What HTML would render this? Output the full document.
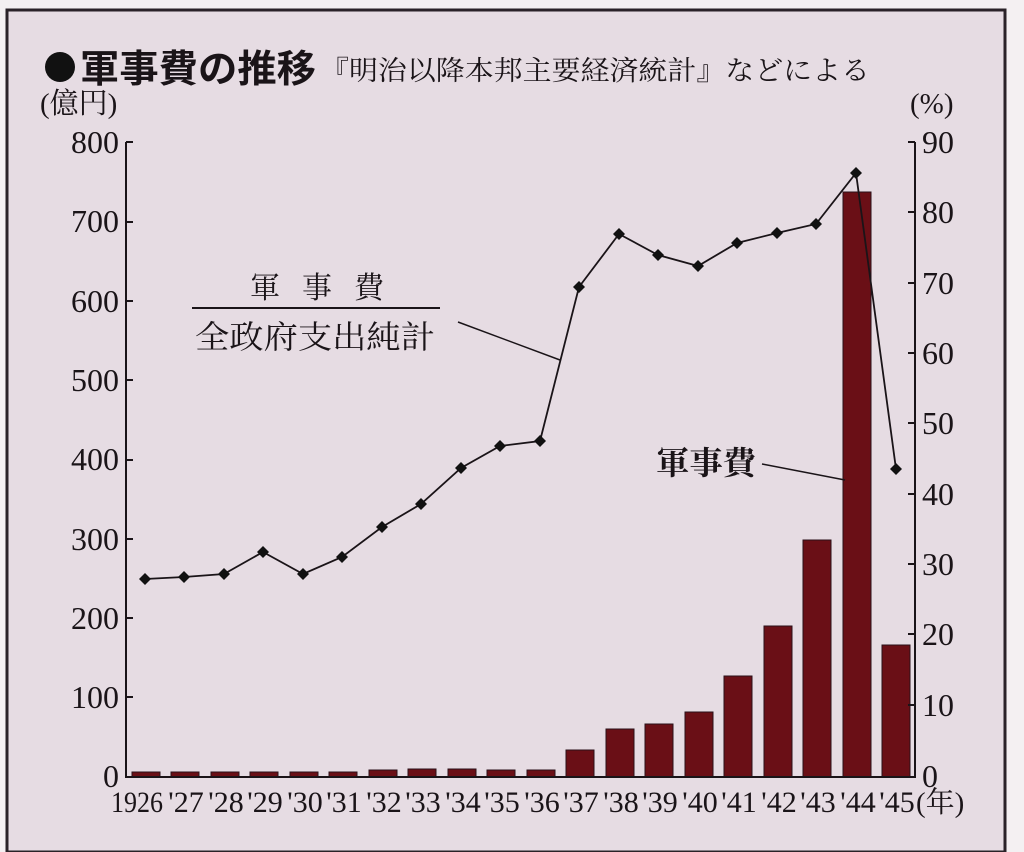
<!DOCTYPE html>
<html><head><meta charset="utf-8"><style>
html,body{margin:0;padding:0;background:#fff;}
svg{display:block;}
text{font-family:"Liberation Serif","Noto Serif CJK SC",serif;fill:#1a1418;}
.t{font-family:"Liberation Sans","Noto Sans CJK JP",sans-serif;}
</style></head><body>
<svg width="1024" height="852" viewBox="0 0 1024 852">
<rect x="0" y="0" width="1024" height="852" fill="#f4f0f2"/>
<rect x="7" y="10" width="998" height="842" fill="#e6dce3" stroke="#2a2228" stroke-width="3"/>
<circle cx="60" cy="67" r="15" fill="#111"/>
<text class="t" x="80" y="82" font-size="38" font-weight="bold" textLength="236" lengthAdjust="spacingAndGlyphs">軍事費の推移</text>
<text x="320" y="80" font-size="27" font-family="'Noto Serif CJK SC',serif" textLength="550" lengthAdjust="spacingAndGlyphs">『明治以降本邦主要経済統計』などによる</text>
<text x="40" y="113" font-size="29" font-family="'Noto Serif CJK SC',serif">(億円)</text>
<text x="910" y="113" font-size="29" font-family="'Noto Serif CJK SC',serif">(%)</text>
<g font-size="32" text-anchor="end">
<text x="119" y="153">800</text><text x="119" y="232">700</text><text x="119" y="312">600</text>
<text x="119" y="391">500</text><text x="119" y="470">400</text><text x="119" y="550">300</text>
<text x="119" y="629">200</text><text x="119" y="708">100</text><text x="119" y="787">0</text>
</g>
<g font-size="32" text-anchor="start">
<text x="922" y="153">90</text><text x="922" y="223">80</text><text x="922" y="294">70</text>
<text x="922" y="364">60</text><text x="922" y="434">50</text><text x="922" y="505">40</text>
<text x="922" y="575">30</text><text x="922" y="645">20</text><text x="922" y="716">10</text>
<text x="922" y="787">0</text>
</g>
<g fill="#6a0f16" stroke="#2a1018" stroke-width="1">
<rect x="132" y="772" width="28" height="5"/><rect x="171" y="772" width="28" height="5"/>
<rect x="211" y="772" width="28" height="5"/><rect x="250" y="772" width="28" height="5"/>
<rect x="290" y="772" width="28" height="5"/><rect x="329" y="772" width="28" height="5"/>
<rect x="369" y="770" width="28" height="7"/><rect x="408" y="769" width="28" height="8"/>
<rect x="448" y="769" width="28" height="8"/><rect x="487" y="770" width="28" height="7"/>
<rect x="527" y="770" width="28" height="7"/>
<rect x="566" y="750" width="28" height="27"/><rect x="606" y="729" width="28" height="48"/>
<rect x="645" y="724" width="28" height="53"/><rect x="685" y="712" width="28" height="65"/>
<rect x="724" y="676" width="28" height="101"/><rect x="764" y="626" width="28" height="151"/>
<rect x="803" y="540" width="28" height="237"/><rect x="843" y="192" width="28" height="585"/>
<rect x="882" y="645" width="28" height="132"/>
</g>
<g stroke="#1a1418" stroke-width="2" fill="none">
<path d="M126 142 V777 H915 V142"/>
<path d="M126 142h7M126 222h7M126 301h7M126 380h7M126 460h7M126 539h7M126 618h7M126 697h7"/>
<path d="M915 142h-7M915 212h-7M915 283h-7M915 353h-7M915 423h-7M915 494h-7M915 564h-7M915 634h-7M915 705h-7"/>
</g>
<polyline fill="none" stroke="#1a1418" stroke-width="1.8" points="145,579 184,577 224,574 263,552 303,574 342,557 382,527 421,504 461,468 500,446 540,441 579,287 619,234 658,255 698,266 737,243 777,233 816,224 856,173 896,469"/>
<g fill="#111">
<path d="M0,-6 L6,0 L0,6 L-6,0Z" transform="translate(145,579)"/>
<path d="M0,-6 L6,0 L0,6 L-6,0Z" transform="translate(184,577)"/>
<path d="M0,-6 L6,0 L0,6 L-6,0Z" transform="translate(224,574)"/>
<path d="M0,-6 L6,0 L0,6 L-6,0Z" transform="translate(263,552)"/>
<path d="M0,-6 L6,0 L0,6 L-6,0Z" transform="translate(303,574)"/>
<path d="M0,-6 L6,0 L0,6 L-6,0Z" transform="translate(342,557)"/>
<path d="M0,-6 L6,0 L0,6 L-6,0Z" transform="translate(382,527)"/>
<path d="M0,-6 L6,0 L0,6 L-6,0Z" transform="translate(421,504)"/>
<path d="M0,-6 L6,0 L0,6 L-6,0Z" transform="translate(461,468)"/>
<path d="M0,-6 L6,0 L0,6 L-6,0Z" transform="translate(500,446)"/>
<path d="M0,-6 L6,0 L0,6 L-6,0Z" transform="translate(540,441)"/>
<path d="M0,-6 L6,0 L0,6 L-6,0Z" transform="translate(579,287)"/>
<path d="M0,-6 L6,0 L0,6 L-6,0Z" transform="translate(619,234)"/>
<path d="M0,-6 L6,0 L0,6 L-6,0Z" transform="translate(658,255)"/>
<path d="M0,-6 L6,0 L0,6 L-6,0Z" transform="translate(698,266)"/>
<path d="M0,-6 L6,0 L0,6 L-6,0Z" transform="translate(737,243)"/>
<path d="M0,-6 L6,0 L0,6 L-6,0Z" transform="translate(777,233)"/>
<path d="M0,-6 L6,0 L0,6 L-6,0Z" transform="translate(816,224)"/>
<path d="M0,-6 L6,0 L0,6 L-6,0Z" transform="translate(856,173)"/>
<path d="M0,-6 L6,0 L0,6 L-6,0Z" transform="translate(896,469)"/>
</g>
<text x="250" y="298" font-size="30" textLength="134" lengthAdjust="spacing" font-family="'Noto Serif CJK SC',serif">軍事費</text>
<line x1="192" y1="308" x2="440" y2="308" stroke="#1a1418" stroke-width="2"/>
<text x="195" y="348" font-size="32" textLength="240" lengthAdjust="spacingAndGlyphs" font-family="'Noto Serif CJK SC',serif">全政府支出純計</text>
<line x1="458" y1="322" x2="560" y2="360" stroke="#1a1418" stroke-width="1.5"/>
<text x="656" y="474" font-size="32" textLength="100" lengthAdjust="spacingAndGlyphs" font-family="'Noto Sans CJK JP',sans-serif" font-weight="bold">軍事費</text>
<line x1="762" y1="464" x2="845" y2="480" stroke="#1a1418" stroke-width="1.5"/>
<g font-size="30" text-anchor="middle">
<text x="137" y="812" textLength="52" lengthAdjust="spacingAndGlyphs">1926</text><text x="186" y="812">'27</text><text x="226" y="812">'28</text>
<text x="265" y="812">'29</text><text x="305" y="812">'30</text><text x="344" y="812">'31</text>
<text x="384" y="812">'32</text><text x="423" y="812">'33</text><text x="463" y="812">'34</text>
<text x="502" y="812">'35</text><text x="542" y="812">'36</text><text x="581" y="812">'37</text>
<text x="621" y="812">'38</text><text x="660" y="812">'39</text><text x="700" y="812">'40</text>
<text x="739" y="812">'41</text><text x="779" y="812">'42</text><text x="818" y="812">'43</text>
<text x="858" y="812">'44</text><text x="897" y="812">'45</text>
</g>
<text x="916" y="812" font-size="29" font-family="'Noto Serif CJK SC',serif">(年)</text>
</svg>
</body></html>
